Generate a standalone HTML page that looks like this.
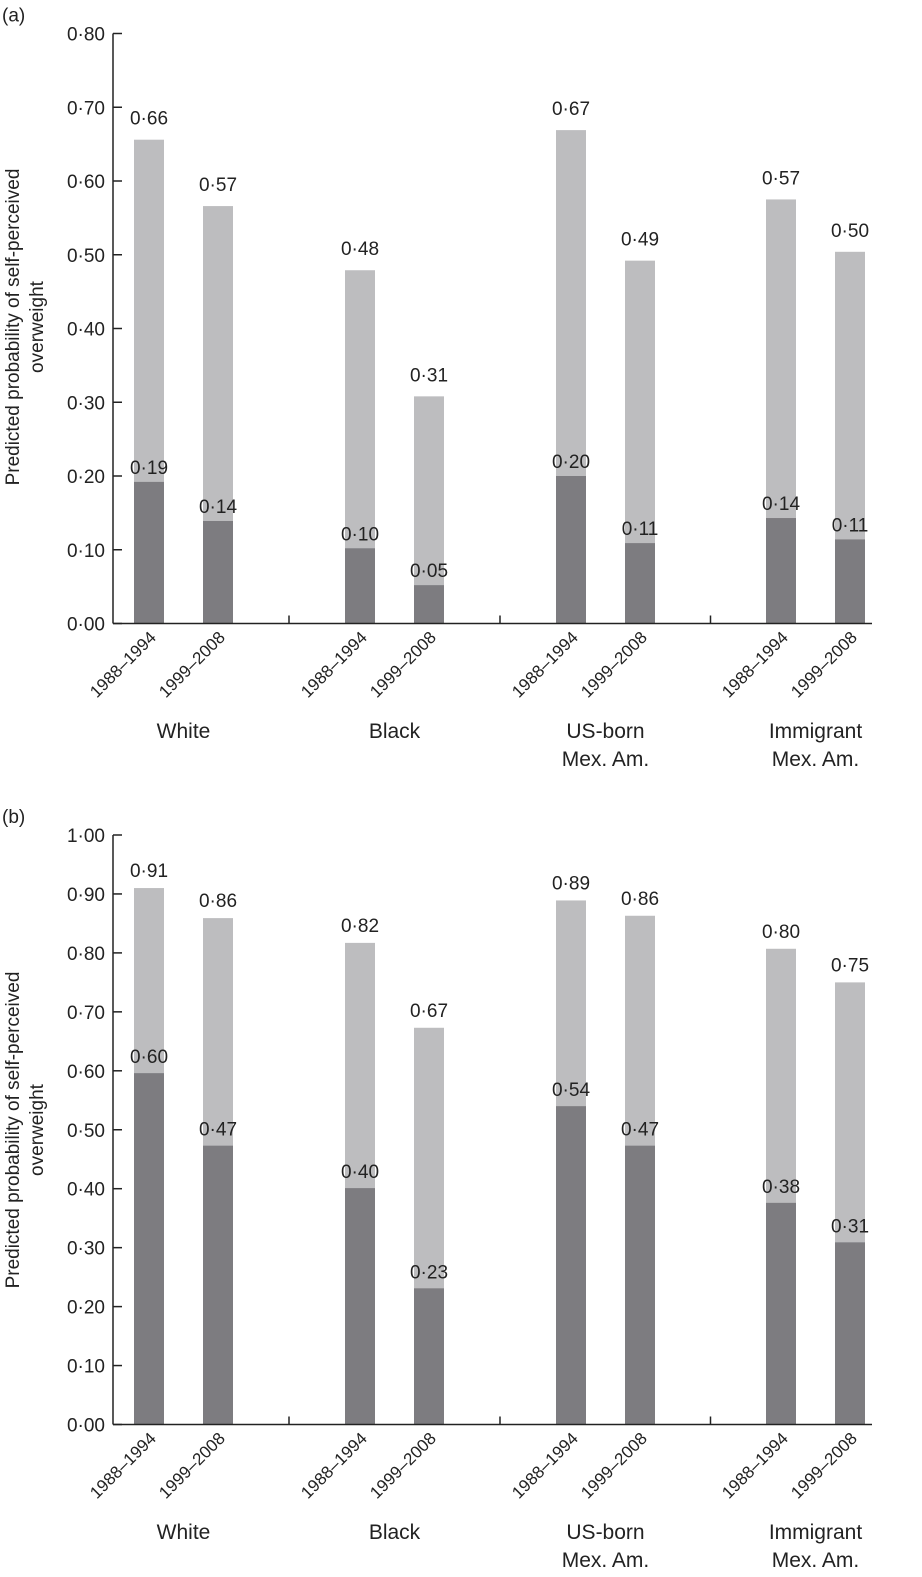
<!DOCTYPE html>
<html><head><meta charset="utf-8">
<style>
body{margin:0;background:#fff;font-family:"Liberation Sans",Arial,sans-serif;}
svg text{font-family:"Liberation Sans",Arial,sans-serif;fill:#222;}
</style></head>
<body>
<svg id="chart" width="922" height="1572" xmlns="http://www.w3.org/2000/svg"></svg>
<script>
const groups = ["White","Black","US-born|Mex. Am.","Immigrant|Mex. Am."];
const periods = ["1988–1994","1999–2008"];
const totalA = [0.656,0.566,0.479,0.308,0.669,0.492,0.575,0.504];
const lowA   = [0.192,0.139,0.102,0.052,0.200,0.109,0.143,0.114];
const totalLabelsA = ["0·66","0·57","0·48","0·31","0·67","0·49","0·57","0·50"];
const lowLabelsA   = ["0·19","0·14","0·10","0·05","0·20","0·11","0·14","0·11"];
const totalB = [0.910,0.859,0.817,0.673,0.889,0.863,0.807,0.750];
const lowB   = [0.596,0.473,0.401,0.231,0.540,0.473,0.376,0.309];
const totalLabelsB = ["0·91","0·86","0·82","0·67","0·89","0·86","0·80","0·75"];
const lowLabelsB   = ["0·60","0·47","0·40","0·23","0·54","0·47","0·38","0·31"];
const ticksA = ["0·00","0·10","0·20","0·30","0·40","0·50","0·60","0·70","0·80"];
const ticksB = ["0·00","0·10","0·20","0·30","0·40","0·50","0·60","0·70","0·80","0·90","1·00"];

const svg=document.getElementById('chart');
const NS="http://www.w3.org/2000/svg";
function mk(tag,attrs,parent){const e=document.createElementNS(NS,tag);for(const k in attrs)e.setAttribute(k,attrs[k]);(parent||svg).appendChild(e);return e;}
const barX=[134,203,345,414,556,625,766,835];
const BW=30;

function panel(letter,y0,y1,maxV,ticks,total,low,tl,ll,titleCy,grpY,offT,offL){
  const g=mk('g',{});
  
  
  const y=v=>y0-(v/maxV)*(y0-y1);
  const lab=mk('text',{x:2,y:y1-12,'font-size':19},g);lab.textContent='('+letter+')';
  
  
  total.forEach((v,i)=>{
    const x=barX[i];
    const b=mk('rect',{x:x,y:y(v),width:BW,height:y0-y(v),fill:'#bdbdbf'},g);
    
    
    const d=mk('rect',{x:x,y:y(low[i]),width:BW,height:y0-y(low[i]),fill:'#7d7c80'},g);
    
    
    const t1=mk('text',{x:x+BW/2,y:y(v)-offT,'font-size':19,'text-anchor':'middle'},g);t1.textContent=tl[i];
    
    
    const t2=mk('text',{x:x+BW/2,y:y(low[i])-offL,'font-size':19,'text-anchor':'middle'},g);t2.textContent=ll[i];
    
    
    const c=mk('text',{transform:`translate(${x+BW/2+8},${y0+15}) rotate(-45)`,'font-size':17,'text-anchor':'end'},g);c.textContent=periods[i%2];
    
    
  });
  const ax=mk('line',{x1:113,x2:113,y1:y1,y2:y0,stroke:'#222','stroke-width':1.5},g);
  
  
  const xa=mk('line',{x1:113,x2:872,y1:y0,y2:y0,stroke:'#222','stroke-width':1.5},g);
  
  
  for(let j=0;j<3;j++){
    const mx=(barX[2*j+1]+BW+barX[2*j+2])/2;
    mk('line',{x1:mx,x2:mx,y1:y0,y2:y0-8,stroke:'#222','stroke-width':1.5},g);
  }
  ticks.forEach((t)=>{
    const v=parseFloat(t.replace('·','.'));
    const ty=y(v);
    mk('line',{x1:113,x2:122,y1:ty,y2:ty,stroke:'#222','stroke-width':1.5},g);
    const tx=mk('text',{x:105,y:ty+7,'font-size':19,'text-anchor':'end'},g);tx.textContent=t;
    
    
  });
  const ttl=mk('text',{transform:`translate(19,${titleCy}) rotate(-90)`,'font-size':19,'text-anchor':'middle'},g);
  
  
  const s1=mk('tspan',{x:0,dy:0},ttl);s1.textContent='Predicted probability of self-perceived';
  const s2=mk('tspan',{x:0,dy:24},ttl);s2.textContent='overweight';
  groups.forEach((gname,j)=>{
    const cx=(barX[2*j]+barX[2*j+1]+BW)/2;
    gname.split('|').forEach((p,k)=>{
      const t=mk('text',{x:cx,y:grpY+k*28,'font-size':21,'text-anchor':'middle'},g);t.textContent=p;
      
      
    });
  });
}
panel('a',623.5,33.5,0.80,ticksA,totalA,lowA,totalLabelsA,lowLabelsA,327,738,15,8);
panel('b',1424.5,835,1.00,ticksB,totalB,lowB,totalLabelsB,lowLabelsB,1130,1539,11,10);
</script>
</body></html>
